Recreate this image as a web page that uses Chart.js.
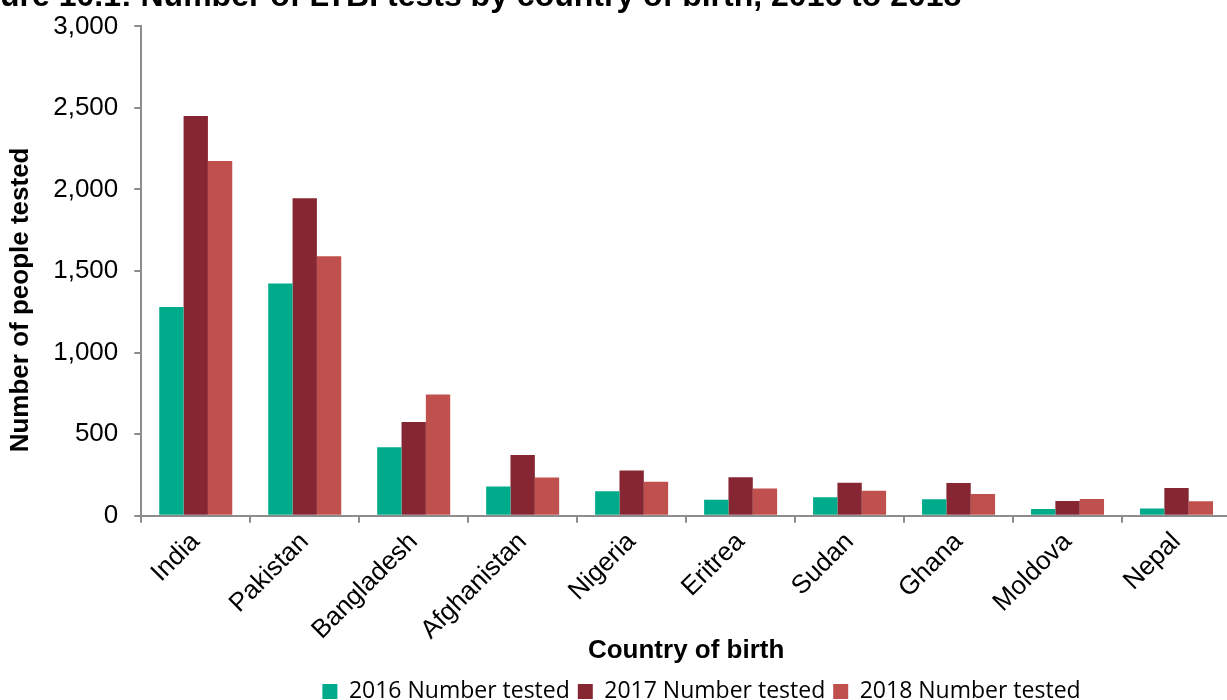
<!DOCTYPE html>
<html>
<head>
<meta charset="utf-8">
<script src="https://cdn.jsdelivr.net/npm/chart.js@4"></script>
<style>
  html, body { margin: 0; padding: 0; overflow: hidden; background: #fff; }
  #wrap { position: absolute; left: -48px; top: -22px; width: 1279px; height: 735px; }
</style>
</head>
<body>
<div id="wrap"><canvas id="ltbiChart"></canvas></div>
<script>
const countries = ['India', 'Pakistan', 'Bangladesh', 'Afghanistan', 'Nigeria', 'Eritrea', 'Sudan', 'Ghana', 'Moldova', 'Nepal'];
const tested2016 = [1280, 1424, 420, 178, 150, 98, 112, 100, 40, 44];
const tested2017 = [2450, 1946, 574, 371, 277, 235, 201, 200, 90, 170];
const tested2018 = [2174, 1590, 742, 234, 207, 166, 152, 133, 102, 88];
const yTicks = [0, 500, 1000, 1500, 2000, 2500, 3000];

const axisGrey = '#8c8c8c';
const arial = 'Liberation Sans, Arial';

// the legend in the original sits right of the canvas centre
const legendShift = {
  id: 'legendShift',
  afterLayout(chart) {
    chart.legend.left += 110;
    chart.legend.right += 110;
  }
};

document.addEventListener('DOMContentLoaded', () => {
  const ctx = document.getElementById('ltbiChart').getContext('2d');
  new Chart(ctx, {
    type: 'bar',
    data: {
      labels: countries,
      datasets: [
        { label: '2016 Number tested', data: tested2016, backgroundColor: '#00ab8c' },
        { label: '2017 Number tested', data: tested2017, backgroundColor: '#862632' },
        { label: '2018 Number tested', data: tested2018, backgroundColor: '#c0504d' }
      ]
    },
    plugins: [legendShift],
    options: {
      responsive: true,
      maintainAspectRatio: false,
      animation: false,
      datasets: {
        bar: { categoryPercentage: 0.67, barPercentage: 1.0 }
      },
      layout: {
        padding: 0
      },
      plugins: {
        title: {
          display: true,
          text: 'Figure 10.1: Number of LTBI tests by country of birth, 2016 to 2018',
          align: 'start',
          color: '#000',
          font: { family: arial, size: 32, weight: 'bold' },
          padding: { top: 0, bottom: 10 }
        },
        legend: {
          position: 'bottom',
          labels: {
            color: '#000',
            font: { family: 'Open Sans', size: 23 },
            boxWidth: 15,
            boxHeight: 15,
            padding: 8
          }
        },
        tooltip: { enabled: false }
      },
      scales: {
        x: {
          // rotated labels sit closer to the title in the original
          afterFit: scale => { scale.height -= 15; },
          grid: {
            offset: true,
            drawOnChartArea: false,
            drawTicks: true,
            tickLength: 7,
            color: axisGrey,
            lineWidth: 2
          },
          border: { color: axisGrey, width: 2 },
          ticks: {
            color: '#000',
            font: { family: arial, size: 26 },
            maxRotation: 45,
            minRotation: 45,
            autoSkip: false,
            padding: 4
          },
          title: {
            display: true,
            text: 'Country of birth',
            color: '#000',
            font: { family: arial, size: 26, weight: 'bold' },
            padding: { top: 0, bottom: 6 }
          }
        },
        y: {
          min: 0,
          max: 3000,
          afterBuildTicks: axis => {
            axis.ticks = yTicks.map(v => ({ value: v }));
          },
          grid: {
            drawOnChartArea: false,
            drawTicks: true,
            tickLength: 7,
            color: axisGrey,
            lineWidth: 2
          },
          border: { color: axisGrey, width: 2 },
          ticks: {
            color: '#000',
            font: { family: arial, size: 26 },
            padding: 16,
            callback: v => v.toLocaleString('en-GB')
          },
          title: {
            display: true,
            text: 'Number of people tested        ',
            color: '#000',
            font: { family: arial, size: 26, weight: 'bold' },
            padding: { top: 53, bottom: 1 }
          }
        }
      }
    }
  });
});
</script>
</body>
</html>
